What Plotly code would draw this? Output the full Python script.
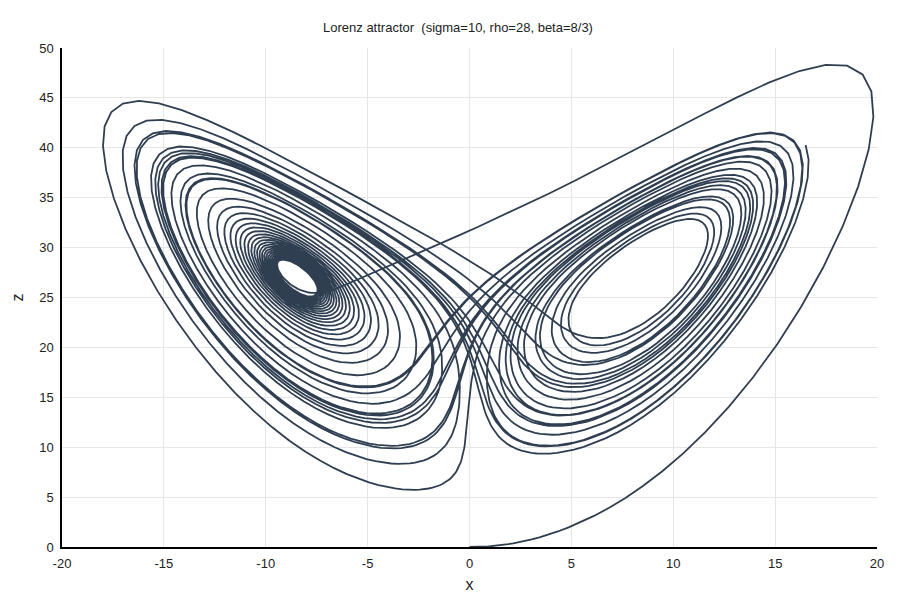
import numpy as np
import plotly.graph_objects as go

sigma = 10.0
rho = 28.0
beta = 8.0 / 3.0
initial_state = [0.0, 1.0, 0.0]
dt = 0.01
n_steps = 4000
x_ticks = [-20, -15, -10, -5, 0, 5, 10, 15, 20]
z_ticks = [0, 5, 10, 15, 20, 25, 30, 35, 40, 45, 50]

def deriv(s):
    x, y, z = s
    return np.array([sigma * (y - x), x * (rho - z) - y, x * y - beta * z])

s = np.array(initial_state, dtype=float)
pts = [s.copy()]
for _ in range(n_steps):
    k1 = deriv(s); k2 = deriv(s + dt/2*k1); k3 = deriv(s + dt/2*k2); k4 = deriv(s + dt*k3)
    s = s + dt/6*(k1 + 2*k2 + 2*k3 + k4)
    pts.append(s.copy())
pts = np.array(pts)

fig = go.Figure(go.Scatter(x=pts[:, 0], y=pts[:, 2], mode="lines",
                           line=dict(color="#2f3e50", width=1.8), showlegend=False))
fig.update_layout(
    width=900, height=600, paper_bgcolor="white", plot_bgcolor="white",
    margin=dict(l=54, r=31, t=40, b=61, autoexpand=False),
    title=dict(text="Lorenz attractor  (sigma=10, rho=28, beta=8/3)", x=0.5, y=0.975,
               font=dict(family="Liberation Sans, Arial", size=13, color="#222")),
    font=dict(family="Liberation Sans, Arial", size=13, color="#222"),
)
axis = dict(showgrid=True, gridcolor="#e6e6e6", zeroline=False, showline=True,
            linecolor="black", linewidth=1.5, ticks="outside", ticklen=4,
            tickcolor="rgba(0,0,0,0)", automargin=False)
fig.update_xaxes(range=[-20, 20], tickvals=x_ticks, ticktext=[str(v) for v in x_ticks],
                 title=dict(text="x", standoff=8), **axis)
fig.update_yaxes(range=[0, 50], tickvals=z_ticks, ticktext=[str(v) for v in z_ticks],
                 title=dict(text="z", standoff=12), **axis)
fig.write_html("out.html")
